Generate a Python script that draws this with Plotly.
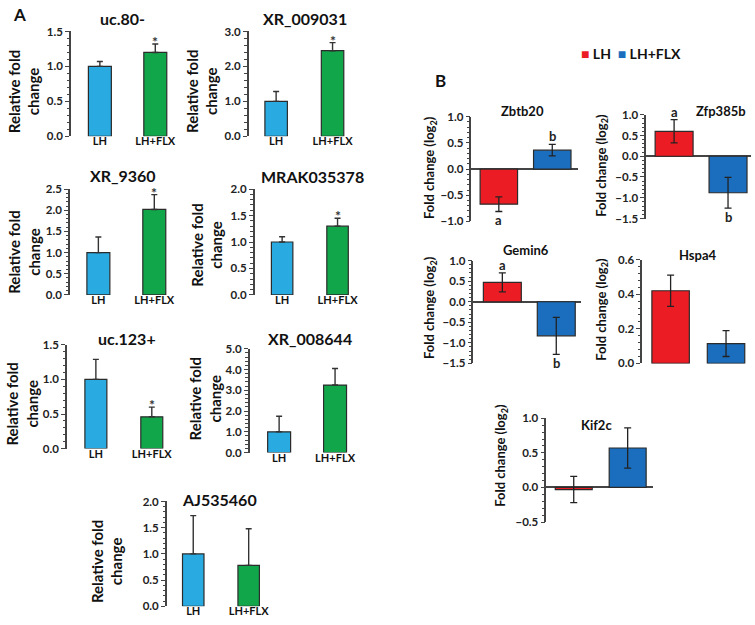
import plotly.graph_objects as go

W, H = 755, 625
FONT = "Lato"
groups = ["LH", "LH+FLX"]

# ---------------- Panel A data ----------------
a_genes = ["uc.80-", "XR_009031", "XR_9360", "MRAK035378", "uc.123+", "XR_008644", "AJ535460"]
a_lh = [1.0, 1.0, 1.0, 1.0, 1.0, 1.0, 1.0]
a_lh_err = [0.07, 0.28, 0.37, 0.10, 0.29, 0.75, 0.73]
a_flx = [1.20, 2.45, 2.02, 1.30, 0.46, 3.25, 0.78]
a_flx_err = [0.12, 0.23, 0.35, 0.15, 0.14, 0.80, 0.70]
a_sig = ["*", "*", "*", "*", "*", "", ""]
a_ymax = [1.5, 3.0, 2.5, 2.0, 1.5, 5.0, 2.0]
a_dtick = [0.5, 1.0, 0.5, 0.5, 0.5, 1.0, 0.5]

# ---------------- Panel B data ----------------
b_genes = ["Zbtb20", "Zfp385b", "Gemin6", "Hspa4", "Kif2c"]
b_lh = [-0.67, 0.60, 0.47, 0.42, -0.03]
b_lh_err = [0.14, 0.28, 0.23, 0.09, 0.19]
b_flx = [0.36, -0.88, -0.83, 0.115, 0.57]
b_flx_err = [0.11, 0.37, 0.45, 0.075, 0.29]
b_letter_lh = ["a", "a", "a", "", ""]
b_letter_flx = ["b", "b", "b", "", ""]
b_ymin = [-1.0, -1.5, -1.5, 0.0, -0.5]
b_ymax = [1.0, 1.0, 1.0, 0.6, 1.0]
b_dtick = [0.5, 0.5, 0.5, 0.2, 0.5]

# colours
A_LH, A_FLX = "#29abe2", "#12a64b"
B_LH, B_FLX = "#ec1c24", "#1b6ebe"
EDGE = "#2b2b2b"

# layout geometry in pixels: axis_x, c0, c1, bar_w, right, y_top, y_bot, title_xy, ytitle_xy
a_geom = [
    (71, 100, 155.5, 23, 176, 25, 132, (123, 12), (24, 86)),
    (249, 276.5, 333, 22.5, 355, 25, 132, (305, 12), (202, 86)),
    (70, 98.5, 154.5, 23, 176, 186, 294, (123, 172), (24, 250)),
    (255, 282.5, 338, 21.5, 360, 186, 294, (313, 173), (207, 243)),
    (67, 96, 152, 22, 172, 345, 451, (127, 339), (22, 405)),
    (250, 279.5, 335.5, 23, 357, 349, 455, (310, 339), (205, 400)),
    (167, 193.5, 249, 21.5, 270, 505, 612, (220, 503), (107, 566)),
]
b_geom = [
    (472, 499.5, 553, 37.5, 579, 112, 219, (523, 106), (430, 164)),
    (647, 675, 729, 38, 752, 110, 216, (722, 106), (602, 162)),
    (474, 503, 557, 38, 582, 259, 364, (527, 248), (430, 307)),
    (643, 671.5, 727, 37.5, 750, 258, 364, (699, 253), (602, 309)),
    (547, 574.5, 628.5, 37, 654, 420, 526, (597, 427), (502, 458)),
]

fig = go.Figure()
layout = {}
annotations = []


def add_axes(i, g, yrange, dtick, show_xlabels, zeroline):
    axis_x, c0, c1, bw, right, ytop, ybot = g[:7]
    unit = c1 - c0
    xr = [-(c0 - axis_x) / unit, (right - c0) / unit]
    sfx = "" if i == 1 else str(i)
    layout["xaxis" + sfx] = dict(
        domain=[axis_x / W, right / W], range=xr, type="category",
        anchor="y" + sfx, showline=False, showgrid=False, zeroline=False,
        ticks="", showticklabels=show_xlabels, fixedrange=True, ticklabelstandoff=-3,
        tickfont=dict(family=FONT, size=11, color="#111", weight="bold"),
    )
    layout["yaxis" + sfx] = dict(
        domain=[1 - ybot / H, 1 - ytop / H], range=yrange, anchor="x" + sfx,
        showline=True, linecolor="#444", linewidth=1.5, mirror=False,
        showgrid=False, zeroline=zeroline, zerolinecolor="#444", zerolinewidth=1.5,
        ticks="outside", ticklen=4, tickwidth=1.2, tickcolor="#444",
        dtick=dtick, tick0=0, tickformat=".1f",
        minor=dict(ticks="outside", ticklen=2.5, tickwidth=1, tickcolor="#444", dtick=dtick / 5),
        tickfont=dict(family=FONT, size=11.5, color="#222", weight="bold"),
        fixedrange=True,
    )
    return bw / unit, "x" + sfx, "y" + sfx


idx = 1
for k in range(len(a_genes)):
    g = a_geom[k]
    width, xa, ya = add_axes(idx, g, [0, a_ymax[k]], a_dtick[k], True, False)
    fig.add_trace(go.Bar(
        x=groups, y=[a_lh[k], a_flx[k]], width=width, xaxis=xa, yaxis=ya,
        marker=dict(color=[A_LH, A_FLX], line=dict(color=EDGE, width=1.2)),
        error_y=dict(type="data", symmetric=False, array=[a_lh_err[k], a_flx_err[k]],
                     arrayminus=[0, 0], color="#333", thickness=1.4, width=3),
        showlegend=False, hoverinfo="skip",
    ))
    if a_sig[k]:
        annotations.append(dict(
            x=groups[1], y=a_flx[k] + a_flx_err[k], xref=xa, yref=ya, text=a_sig[k],
            showarrow=False, yanchor="bottom", yshift=-8,
            font=dict(family=FONT, size=14, color="#333", weight="bold")))
    annotations.append(dict(
        x=g[7][0] / W, y=1 - g[7][1] / H, xref="paper", yref="paper", text=a_genes[k],
        showarrow=False, xanchor="center", yanchor="middle",
        font=dict(family=FONT, size=16, color="#111", weight="bold")))
    annotations.append(dict(
        x=g[8][0] / W, y=1 - g[8][1] / H, xref="paper", yref="paper",
        text="Relative fold<br>change", textangle=-90, showarrow=False,
        xanchor="center", yanchor="middle",
        font=dict(family=FONT, size=15, color="#111", weight="bold")))
    idx += 1

for k in range(len(b_genes)):
    g = b_geom[k]
    width, xa, ya = add_axes(idx, g, [b_ymin[k], b_ymax[k]], b_dtick[k], False, b_ymin[k] < 0)
    for j, (val, err, col) in enumerate([(b_lh[k], b_lh_err[k], B_LH), (b_flx[k], b_flx_err[k], B_FLX)]):
        fig.add_trace(go.Bar(
            x=[groups[j]], y=[val], width=width, xaxis=xa, yaxis=ya, name=groups[j],
            marker=dict(color=col, line=dict(color=EDGE, width=1.2)),
            error_y=dict(type="data", array=[err], color="#222", thickness=1.3, width=3.5),
            showlegend=False, legendgroup=groups[j], hoverinfo="skip",
        ))
    for j, (lab, val, err) in enumerate([(b_letter_lh[k], b_lh[k], b_lh_err[k]),
                                         (b_letter_flx[k], b_flx[k], b_flx_err[k])]):
        if lab:
            up = val >= 0
            annotations.append(dict(
                x=groups[j], y=val + err if up else val - err, xref=xa, yref=ya, text=lab,
                showarrow=False, yanchor="bottom" if up else "top", yshift=-2 if up else 1,
                font=dict(family=FONT, size=13, color="#222", weight="bold")))
    annotations.append(dict(
        x=g[7][0] / W, y=1 - g[7][1] / H, xref="paper", yref="paper", text=b_genes[k],
        showarrow=False, xanchor="center", yanchor="middle",
        font=dict(family=FONT, size=13, color="#111", weight="bold")))
    annotations.append(dict(
        x=g[8][0] / W, y=1 - g[8][1] / H, xref="paper", yref="paper",
        text="Fold change (log<sub>2</sub>)", textangle=-90, showarrow=False,
        xanchor="center", yanchor="middle",
        font=dict(family=FONT, size=13, color="#111", weight="bold")))
    idx += 1

# legend for panel B (colour key)
annotations.append(dict(
    x=580 / W, y=1 - 47 / H, xref="paper", yref="paper", showarrow=False,
    xanchor="left", yanchor="middle",
    text=(f"<span style='color:{B_LH}'>■</span> {groups[0]}  "
          f"<span style='color:{B_FLX}'>■</span> {groups[1]}"),
    font=dict(family=FONT, size=14, color="#111", weight="bold")))

# panel letters
annotations.append(dict(x=20 / W, y=1 - 8 / H, xref="paper", yref="paper", text="A",
                        showarrow=False, xanchor="center", yanchor="middle",
                        font=dict(family=FONT, size=17, color="#111", weight="bold")))
annotations.append(dict(x=441 / W, y=1 - 75 / H, xref="paper", yref="paper", text="B",
                        showarrow=False, xanchor="center", yanchor="middle",
                        font=dict(family=FONT, size=17, color="#111", weight="bold")))

fig.update_layout(
    **layout,
    annotations=annotations,
    width=W, height=H,
    margin=dict(l=0, r=0, t=0, b=0),
    paper_bgcolor="white", plot_bgcolor="white",
    barmode="overlay",
    showlegend=False,
)

fig.write_html("out.html", config={"displayModeBar": False},
               post_script="document.body.style.margin='0px';")
